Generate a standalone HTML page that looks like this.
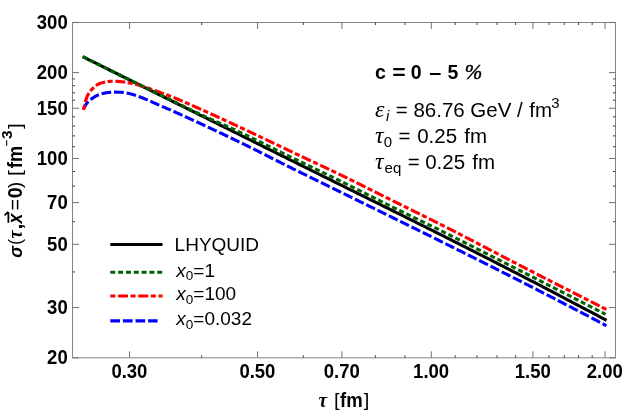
<!DOCTYPE html>
<html><head><meta charset="utf-8"><title>plot</title>
<style>
html,body{margin:0;padding:0;background:#fff;}
svg{display:block;will-change:transform;}
text{font-family:"Liberation Sans",sans-serif;font-size:19px;fill:#000;}
.b{font-weight:bold;}
.i{font-style:italic;}
.s{font-family:"Liberation Serif",serif;font-style:italic;}
.sb{font-weight:bold;}
</style></head><body>
<svg width="623" height="411" viewBox="0 0 623 411">
<rect width="623" height="411" fill="#fff"/>

<g fill="none" stroke-width="3.1" stroke-linejoin="round">
<path d="M82.70,56.65 L85.33,57.96 L87.96,59.27 L90.60,60.58 L93.23,61.89 L95.86,63.20 L98.49,64.51 L101.13,65.82 L103.76,67.13 L106.39,68.44 L109.02,69.75 L111.65,71.06 L114.29,72.37 L116.92,73.68 L119.55,74.99 L122.18,76.30 L124.81,77.61 L127.45,78.92 L130.08,80.23 L132.71,81.54 L135.34,82.85 L137.98,84.16 L140.61,85.47 L143.24,86.78 L145.87,88.09 L148.50,89.39 L151.14,90.70 L153.77,92.01 L156.40,93.32 L159.03,94.63 L161.66,95.94 L164.30,97.25 L166.93,98.56 L169.56,99.87 L172.19,101.18 L174.83,102.49 L177.46,103.80 L180.09,105.11 L182.72,106.42 L185.35,107.73 L187.99,109.03 L190.62,110.34 L193.25,111.65 L195.88,112.96 L198.52,114.27 L201.15,115.58 L203.78,116.89 L206.41,118.20 L209.04,119.51 L211.68,120.82 L214.31,122.12 L216.94,123.43 L219.57,124.74 L222.20,126.05 L224.84,127.36 L227.47,128.67 L230.10,129.98 L232.73,131.29 L235.37,132.60 L238.00,133.90 L240.63,135.21 L243.26,136.52 L245.89,137.83 L248.53,139.14 L251.16,140.45 L253.79,141.76 L256.42,143.06 L259.05,144.37 L261.69,145.68 L264.32,146.99 L266.95,148.30 L269.58,149.61 L272.22,150.92 L274.85,152.22 L277.48,153.53 L280.11,154.84 L282.74,156.15 L285.38,157.46 L288.01,158.77 L290.64,160.07 L293.27,161.38 L295.91,162.69 L298.54,164.00 L301.17,165.31 L303.80,166.61 L306.43,167.92 L309.07,169.23 L311.70,170.54 L314.33,171.85 L316.96,173.15 L319.59,174.46 L322.23,175.77 L324.86,177.08 L327.49,178.38 L330.12,179.69 L332.76,181.00 L335.39,182.31 L338.02,183.62 L340.65,184.92 L343.28,186.23 L345.92,187.54 L348.55,188.84 L351.18,190.15 L353.81,191.45 L356.44,192.76 L359.08,194.06 L361.71,195.36 L364.34,196.67 L366.97,197.97 L369.61,199.27 L372.24,200.57 L374.87,201.88 L377.50,203.18 L380.13,204.48 L382.77,205.78 L385.40,207.09 L388.03,208.39 L390.66,209.70 L393.29,211.00 L395.93,212.31 L398.56,213.61 L401.19,214.92 L403.82,216.23 L406.46,217.54 L409.09,218.85 L411.72,220.16 L414.35,221.47 L416.98,222.78 L419.62,224.10 L422.25,225.41 L424.88,226.73 L427.51,228.05 L430.15,229.37 L432.78,230.69 L435.41,232.02 L438.04,233.34 L440.67,234.66 L443.31,235.99 L445.94,237.31 L448.57,238.64 L451.20,239.97 L453.83,241.29 L456.47,242.62 L459.10,243.95 L461.73,245.28 L464.36,246.61 L467.00,247.94 L469.63,249.28 L472.26,250.61 L474.89,251.94 L477.52,253.28 L480.16,254.62 L482.79,255.95 L485.42,257.29 L488.05,258.63 L490.68,259.98 L493.32,261.32 L495.95,262.66 L498.58,264.01 L501.21,265.35 L503.85,266.70 L506.48,268.05 L509.11,269.40 L511.74,270.75 L514.37,272.10 L517.01,273.46 L519.64,274.81 L522.27,276.17 L524.90,277.53 L527.54,278.89 L530.17,280.26 L532.80,281.62 L535.43,282.99 L538.06,284.36 L540.70,285.73 L543.33,287.11 L545.96,288.48 L548.59,289.86 L551.22,291.24 L553.86,292.61 L556.49,293.99 L559.12,295.37 L561.75,296.75 L564.39,298.14 L567.02,299.52 L569.65,300.90 L572.28,302.29 L574.91,303.67 L577.55,305.05 L580.18,306.44 L582.81,307.82 L585.44,309.20 L588.07,310.59 L590.71,311.97 L593.34,313.36 L595.97,314.74 L598.60,316.13 L601.24,317.52 L603.87,318.91 L606.50,320.30" stroke="#000"/>
<path d="M83.10,109.60 L84.41,107.27 L85.72,104.80 L87.04,102.84 L88.35,101.45 L89.66,100.29 L90.97,99.29 L92.28,98.38 L93.59,97.51 L94.91,96.68 L96.22,95.93 L97.53,95.28 L98.84,94.75 L100.15,94.29 L101.46,93.87 L102.78,93.49 L104.09,93.16 L105.40,92.89 L106.71,92.70 L108.02,92.55 L109.34,92.41 L110.65,92.28 L111.96,92.19 L113.27,92.12 L114.58,92.10 L115.89,92.11 L117.21,92.14 L118.52,92.19 L119.83,92.25 L121.14,92.32 L122.45,92.40 L123.77,92.52 L125.08,92.73 L126.39,92.98 L127.70,93.26 L129.01,93.55 L130.32,93.85 L131.64,94.19 L132.95,94.56 L134.26,94.96 L135.57,95.37 L136.88,95.81 L138.19,96.27 L139.51,96.75 L140.82,97.25 L142.13,97.76 L143.44,98.29 L144.75,98.83 L146.07,99.38 L147.38,99.94 L148.69,100.51 L150.00,101.09 L151.31,101.67 L152.62,102.25 L153.94,102.84 L155.25,103.42 L156.56,104.00 L157.87,104.58 L159.18,105.15 L160.49,105.71 L161.81,106.28 L163.12,106.84 L164.43,107.41 L165.74,107.98 L167.05,108.55 L168.37,109.13 L169.68,109.70 L170.99,110.28 L172.30,110.86 L173.61,111.44 L174.92,112.02 L176.24,112.60 L177.55,113.18 L178.86,113.77 L180.17,114.36 L181.48,114.94 L182.80,115.53 L184.11,116.12 L185.42,116.72 L186.73,117.31 L188.04,117.91 L189.35,118.50 L190.67,119.10 L191.98,119.70 L193.29,120.30 L194.60,120.90 L195.91,121.50 L197.22,122.11 L198.54,122.71 L199.85,123.32 L201.16,123.92 L202.47,124.53 L203.78,125.14 L205.10,125.75 L206.41,126.36 L207.72,126.98 L209.03,127.59 L210.34,128.20 L211.65,128.82 L212.97,129.43 L214.28,130.05 L215.59,130.67 L216.90,131.29 L218.21,131.91 L219.53,132.53 L220.84,133.15 L222.15,133.77 L223.46,134.39 L224.77,135.02 L226.08,135.64 L227.40,136.27 L228.71,136.89 L230.02,137.52 L231.33,138.14 L232.64,138.77 L233.95,139.40 L235.27,140.03 L236.58,140.66 L237.89,141.29 L239.20,141.92 L240.51,142.55 L241.83,143.18 L243.14,143.82 L244.45,144.45 L245.76,145.10 L247.07,145.74 L248.38,146.38 L249.70,147.03 L251.01,147.68 L252.32,148.33 L253.63,148.99 L254.94,149.64 L256.25,150.30 L257.57,150.96 L258.88,151.62 L260.19,152.28 L261.50,152.94 L262.81,153.60 L264.13,154.26 L265.44,154.93 L266.75,155.59 L268.06,156.26 L269.37,156.92 L270.68,157.59 L272.00,158.25 L273.31,158.92 L274.62,159.58 L275.93,160.24 L277.24,160.91 L278.56,161.57 L279.87,162.23 L281.18,162.89 L282.49,163.55 L283.80,164.21 L285.11,164.87 L286.43,165.53 L287.74,166.18 L289.05,166.83 L290.36,167.48 L291.67,168.13 L292.98,168.78 L294.30,169.43 L295.61,170.08 L296.92,170.72 L298.23,171.37 L299.54,172.01 L300.86,172.66 L302.17,173.30 L303.48,173.94 L304.79,174.59 L306.10,175.23 L307.41,175.87 L308.73,176.51 L310.04,177.16 L311.35,177.80 L312.66,178.44 L313.97,179.08 L315.28,179.72 L316.60,180.36 L317.91,181.00 L319.22,181.64 L320.53,182.28 L321.84,182.92 L323.16,183.56 L324.47,184.20 L325.78,184.84 L327.09,185.48 L328.40,186.12 L329.71,186.77 L331.03,187.41 L332.34,188.05 L333.65,188.69 L334.96,189.33 L336.27,189.97 L337.59,190.62 L338.90,191.26 L340.21,191.90 L341.52,192.55 L342.83,193.19 L344.14,193.83 L345.46,194.48 L346.77,195.12 L348.08,195.76 L349.39,196.41 L350.70,197.05 L352.01,197.69 L353.33,198.33 L354.64,198.98 L355.95,199.62 L357.26,200.26 L358.57,200.91 L359.89,201.55 L361.20,202.19 L362.51,202.83 L363.82,203.48 L365.13,204.12 L366.44,204.76 L367.76,205.40 L369.07,206.05 L370.38,206.69 L371.69,207.33 L373.00,207.97 L374.32,208.62 L375.63,209.26 L376.94,209.90 L378.25,210.55 L379.56,211.19 L380.87,211.83 L382.19,212.47 L383.50,213.12 L384.81,213.76 L386.12,214.40 L387.43,215.05 L388.74,215.69 L390.06,216.33 L391.37,216.98 L392.68,217.62 L393.99,218.26 L395.30,218.91 L396.62,219.55 L397.93,220.19 L399.24,220.84 L400.55,221.48 L401.86,222.13 L403.17,222.77 L404.49,223.42 L405.80,224.06 L407.11,224.71 L408.42,225.35 L409.73,226.00 L411.04,226.64 L412.36,227.29 L413.67,227.93 L414.98,228.58 L416.29,229.22 L417.60,229.87 L418.92,230.52 L420.23,231.16 L421.54,231.81 L422.85,232.46 L424.16,233.10 L425.47,233.75 L426.79,234.40 L428.10,235.05 L429.41,235.69 L430.72,236.34 L432.03,236.99 L433.35,237.64 L434.66,238.29 L435.97,238.94 L437.28,239.59 L438.59,240.24 L439.90,240.89 L441.22,241.54 L442.53,242.19 L443.84,242.84 L445.15,243.49 L446.46,244.14 L447.77,244.79 L449.09,245.45 L450.40,246.10 L451.71,246.75 L453.02,247.40 L454.33,248.06 L455.65,248.71 L456.96,249.36 L458.27,250.02 L459.58,250.67 L460.89,251.32 L462.20,251.98 L463.52,252.63 L464.83,253.28 L466.14,253.94 L467.45,254.59 L468.76,255.25 L470.07,255.90 L471.39,256.56 L472.70,257.21 L474.01,257.87 L475.32,258.52 L476.63,259.18 L477.95,259.83 L479.26,260.49 L480.57,261.15 L481.88,261.80 L483.19,262.46 L484.50,263.12 L485.82,263.78 L487.13,264.43 L488.44,265.09 L489.75,265.75 L491.06,266.41 L492.38,267.07 L493.69,267.73 L495.00,268.38 L496.31,269.04 L497.62,269.70 L498.93,270.36 L500.25,271.02 L501.56,271.69 L502.87,272.35 L504.18,273.01 L505.49,273.67 L506.80,274.33 L508.12,274.99 L509.43,275.66 L510.74,276.32 L512.05,276.98 L513.36,277.65 L514.68,278.31 L515.99,278.98 L517.30,279.64 L518.61,280.31 L519.92,280.97 L521.23,281.64 L522.55,282.31 L523.86,282.97 L525.17,283.64 L526.48,284.31 L527.79,284.98 L529.11,285.64 L530.42,286.31 L531.73,286.98 L533.04,287.65 L534.35,288.32 L535.66,288.99 L536.98,289.66 L538.29,290.33 L539.60,291.01 L540.91,291.68 L542.22,292.35 L543.53,293.02 L544.85,293.69 L546.16,294.37 L547.47,295.04 L548.78,295.71 L550.09,296.39 L551.41,297.06 L552.72,297.74 L554.03,298.41 L555.34,299.09 L556.65,299.77 L557.96,300.44 L559.28,301.12 L560.59,301.80 L561.90,302.47 L563.21,303.15 L564.52,303.83 L565.83,304.51 L567.15,305.19 L568.46,305.86 L569.77,306.54 L571.08,307.22 L572.39,307.90 L573.71,308.58 L575.02,309.26 L576.33,309.95 L577.64,310.63 L578.95,311.31 L580.26,311.99 L581.58,312.67 L582.89,313.36 L584.20,314.04 L585.51,314.72 L586.82,315.41 L588.14,316.09 L589.45,316.77 L590.76,317.46 L592.07,318.14 L593.38,318.83 L594.69,319.51 L596.01,320.20 L597.32,320.89 L598.63,321.57 L599.94,322.26 L601.25,322.95 L602.56,323.64 L603.88,324.32 L605.19,325.01 L606.50,325.70" stroke="#0000ff" stroke-dasharray="9.7 2.9"/>
<path d="M83.50,109.80 L84.81,104.17 L86.12,99.04 L87.43,95.85 L88.74,93.42 L90.05,91.48 L91.36,89.86 L92.68,88.49 L93.99,87.29 L95.30,86.18 L96.61,85.19 L97.92,84.38 L99.23,83.78 L100.54,83.28 L101.85,82.86 L103.16,82.50 L104.47,82.21 L105.78,81.99 L107.09,81.77 L108.40,81.57 L109.72,81.40 L111.03,81.28 L112.34,81.21 L113.65,81.21 L114.96,81.25 L116.27,81.32 L117.58,81.41 L118.89,81.52 L120.20,81.64 L121.51,81.76 L122.82,81.90 L124.13,82.07 L125.44,82.25 L126.76,82.46 L128.07,82.68 L129.38,82.90 L130.69,83.16 L132.00,83.43 L133.31,83.74 L134.62,84.05 L135.93,84.39 L137.24,84.75 L138.55,85.13 L139.86,85.53 L141.17,85.94 L142.48,86.36 L143.80,86.78 L145.11,87.21 L146.42,87.65 L147.73,88.08 L149.04,88.51 L150.35,88.94 L151.66,89.38 L152.97,89.82 L154.28,90.27 L155.59,90.73 L156.90,91.19 L158.21,91.66 L159.53,92.13 L160.84,92.61 L162.15,93.09 L163.46,93.58 L164.77,94.07 L166.08,94.57 L167.39,95.07 L168.70,95.57 L170.01,96.08 L171.32,96.60 L172.63,97.12 L173.94,97.64 L175.25,98.17 L176.57,98.70 L177.88,99.23 L179.19,99.77 L180.50,100.31 L181.81,100.87 L183.12,101.42 L184.43,101.99 L185.74,102.56 L187.05,103.13 L188.36,103.71 L189.67,104.29 L190.98,104.88 L192.29,105.47 L193.61,106.05 L194.92,106.64 L196.23,107.23 L197.54,107.82 L198.85,108.40 L200.16,108.99 L201.47,109.58 L202.78,110.17 L204.09,110.76 L205.40,111.35 L206.71,111.95 L208.02,112.54 L209.33,113.14 L210.65,113.73 L211.96,114.33 L213.27,114.93 L214.58,115.53 L215.89,116.13 L217.20,116.73 L218.51,117.33 L219.82,117.93 L221.13,118.53 L222.44,119.14 L223.75,119.74 L225.06,120.35 L226.37,120.95 L227.69,121.56 L229.00,122.16 L230.31,122.77 L231.62,123.38 L232.93,123.99 L234.24,124.60 L235.55,125.21 L236.86,125.82 L238.17,126.43 L239.48,127.04 L240.79,127.65 L242.10,128.26 L243.41,128.87 L244.73,129.49 L246.04,130.10 L247.35,130.71 L248.66,131.33 L249.97,131.95 L251.28,132.57 L252.59,133.19 L253.90,133.81 L255.21,134.43 L256.52,135.05 L257.83,135.67 L259.14,136.30 L260.45,136.92 L261.77,137.55 L263.08,138.17 L264.39,138.80 L265.70,139.42 L267.01,140.05 L268.32,140.68 L269.63,141.30 L270.94,141.93 L272.25,142.56 L273.56,143.18 L274.87,143.81 L276.18,144.44 L277.49,145.07 L278.81,145.69 L280.12,146.32 L281.43,146.94 L282.74,147.57 L284.05,148.20 L285.36,148.82 L286.67,149.44 L287.98,150.07 L289.29,150.69 L290.60,151.31 L291.91,151.93 L293.22,152.55 L294.54,153.17 L295.85,153.79 L297.16,154.41 L298.47,155.02 L299.78,155.64 L301.09,156.26 L302.40,156.87 L303.71,157.49 L305.02,158.10 L306.33,158.71 L307.64,159.33 L308.95,159.94 L310.26,160.55 L311.58,161.17 L312.89,161.78 L314.20,162.39 L315.51,163.01 L316.82,163.62 L318.13,164.23 L319.44,164.85 L320.75,165.46 L322.06,166.08 L323.37,166.69 L324.68,167.31 L325.99,167.93 L327.30,168.55 L328.62,169.17 L329.93,169.78 L331.24,170.41 L332.55,171.03 L333.86,171.65 L335.17,172.27 L336.48,172.90 L337.79,173.53 L339.10,174.15 L340.41,174.78 L341.72,175.42 L343.03,176.05 L344.34,176.68 L345.66,177.32 L346.97,177.96 L348.28,178.60 L349.59,179.24 L350.90,179.88 L352.21,180.53 L353.52,181.18 L354.83,181.83 L356.14,182.48 L357.45,183.13 L358.76,183.78 L360.07,184.44 L361.38,185.09 L362.70,185.75 L364.01,186.40 L365.32,187.06 L366.63,187.71 L367.94,188.37 L369.25,189.03 L370.56,189.68 L371.87,190.34 L373.18,191.00 L374.49,191.65 L375.80,192.31 L377.11,192.96 L378.42,193.62 L379.74,194.27 L381.05,194.92 L382.36,195.57 L383.67,196.22 L384.98,196.87 L386.29,197.52 L387.60,198.17 L388.91,198.82 L390.22,199.47 L391.53,200.12 L392.84,200.77 L394.15,201.41 L395.46,202.06 L396.78,202.71 L398.09,203.36 L399.40,204.01 L400.71,204.65 L402.02,205.30 L403.33,205.95 L404.64,206.59 L405.95,207.24 L407.26,207.89 L408.57,208.54 L409.88,209.18 L411.19,209.83 L412.51,210.48 L413.82,211.13 L415.13,211.78 L416.44,212.43 L417.75,213.07 L419.06,213.72 L420.37,214.37 L421.68,215.02 L422.99,215.67 L424.30,216.32 L425.61,216.97 L426.92,217.63 L428.23,218.28 L429.55,218.93 L430.86,219.58 L432.17,220.24 L433.48,220.89 L434.79,221.55 L436.10,222.20 L437.41,222.86 L438.72,223.51 L440.03,224.17 L441.34,224.83 L442.65,225.49 L443.96,226.15 L445.27,226.81 L446.59,227.47 L447.90,228.13 L449.21,228.80 L450.52,229.46 L451.83,230.13 L453.14,230.79 L454.45,231.46 L455.76,232.13 L457.07,232.80 L458.38,233.47 L459.69,234.14 L461.00,234.81 L462.31,235.49 L463.63,236.16 L464.94,236.84 L466.25,237.51 L467.56,238.19 L468.87,238.87 L470.18,239.54 L471.49,240.22 L472.80,240.90 L474.11,241.58 L475.42,242.26 L476.73,242.94 L478.04,243.62 L479.35,244.30 L480.67,244.98 L481.98,245.66 L483.29,246.35 L484.60,247.03 L485.91,247.71 L487.22,248.39 L488.53,249.08 L489.84,249.76 L491.15,250.44 L492.46,251.13 L493.77,251.81 L495.08,252.49 L496.39,253.18 L497.71,253.86 L499.02,254.54 L500.33,255.22 L501.64,255.91 L502.95,256.59 L504.26,257.27 L505.57,257.95 L506.88,258.63 L508.19,259.31 L509.50,260.00 L510.81,260.68 L512.12,261.36 L513.43,262.03 L514.75,262.71 L516.06,263.39 L517.37,264.07 L518.68,264.75 L519.99,265.42 L521.30,266.10 L522.61,266.77 L523.92,267.45 L525.23,268.12 L526.54,268.79 L527.85,269.46 L529.16,270.14 L530.47,270.81 L531.79,271.48 L533.10,272.15 L534.41,272.82 L535.72,273.50 L537.03,274.17 L538.34,274.84 L539.65,275.51 L540.96,276.18 L542.27,276.85 L543.58,277.52 L544.89,278.19 L546.20,278.86 L547.52,279.53 L548.83,280.20 L550.14,280.87 L551.45,281.54 L552.76,282.21 L554.07,282.88 L555.38,283.55 L556.69,284.22 L558.00,284.89 L559.31,285.55 L560.62,286.22 L561.93,286.89 L563.24,287.56 L564.56,288.23 L565.87,288.89 L567.18,289.56 L568.49,290.23 L569.80,290.90 L571.11,291.56 L572.42,292.23 L573.73,292.90 L575.04,293.56 L576.35,294.23 L577.66,294.89 L578.97,295.56 L580.28,296.23 L581.60,296.89 L582.91,297.56 L584.22,298.22 L585.53,298.89 L586.84,299.55 L588.15,300.22 L589.46,300.88 L590.77,301.54 L592.08,302.21 L593.39,302.87 L594.70,303.54 L596.01,304.20 L597.32,304.86 L598.64,305.53 L599.95,306.19 L601.26,306.85 L602.57,307.51 L603.88,308.18 L605.19,308.84 L606.50,309.50" stroke="#ff0000" stroke-dasharray="5.1 2.7 9.9 2.5"/>
<path d="M82.70,56.65 L84.01,57.30 L85.32,57.95 L86.63,58.59 L87.94,59.24 L89.25,59.89 L90.56,60.54 L91.87,61.18 L93.18,61.83 L94.49,62.48 L95.80,63.12 L97.11,63.77 L98.42,64.42 L99.73,65.06 L101.04,65.71 L102.35,66.35 L103.66,67.00 L104.97,67.65 L106.28,68.29 L107.60,68.94 L108.91,69.58 L110.22,70.23 L111.53,70.88 L112.84,71.52 L114.15,72.17 L115.46,72.81 L116.77,73.46 L118.08,74.10 L119.39,74.75 L120.70,75.39 L122.01,76.04 L123.32,76.68 L124.63,77.33 L125.94,77.97 L127.25,78.62 L128.56,79.26 L129.87,79.91 L131.18,80.55 L132.49,81.20 L133.80,81.84 L135.11,82.49 L136.42,83.13 L137.73,83.78 L139.04,84.42 L140.35,85.07 L141.66,85.71 L142.97,86.36 L144.28,87.00 L145.59,87.65 L146.90,88.29 L148.21,88.94 L149.52,89.58 L150.83,90.23 L152.14,90.87 L153.45,91.52 L154.77,92.16 L156.08,92.81 L157.39,93.45 L158.70,94.10 L160.01,94.74 L161.32,95.38 L162.63,96.03 L163.94,96.67 L165.25,97.31 L166.56,97.95 L167.87,98.60 L169.18,99.24 L170.49,99.88 L171.80,100.52 L173.11,101.16 L174.42,101.80 L175.73,102.44 L177.04,103.08 L178.35,103.72 L179.66,104.36 L180.97,105.00 L182.28,105.64 L183.59,106.27 L184.90,106.91 L186.21,107.55 L187.52,108.19 L188.83,108.82 L190.14,109.46 L191.45,110.09 L192.76,110.73 L194.07,111.36 L195.38,111.99 L196.69,112.63 L198.00,113.26 L199.31,113.89 L200.62,114.52 L201.94,115.15 L203.25,115.76 L204.56,116.37 L205.87,116.98 L207.18,117.58 L208.49,118.17 L209.80,118.76 L211.11,119.34 L212.42,119.92 L213.73,120.50 L215.04,121.07 L216.35,121.64 L217.66,122.22 L218.97,122.78 L220.28,123.35 L221.59,123.92 L222.90,124.49 L224.21,125.06 L225.52,125.64 L226.83,126.21 L228.14,126.79 L229.45,127.37 L230.76,127.95 L232.07,128.54 L233.38,129.13 L234.69,129.73 L236.00,130.33 L237.31,130.94 L238.62,131.56 L239.93,132.19 L241.24,132.81 L242.55,133.44 L243.86,134.08 L245.17,134.71 L246.48,135.34 L247.79,135.98 L249.11,136.61 L250.42,137.25 L251.73,137.88 L253.04,138.52 L254.35,139.16 L255.66,139.80 L256.97,140.44 L258.28,141.08 L259.59,141.72 L260.90,142.37 L262.21,143.01 L263.52,143.65 L264.83,144.30 L266.14,144.94 L267.45,145.58 L268.76,146.23 L270.07,146.87 L271.38,147.52 L272.69,148.16 L274.00,148.80 L275.31,149.45 L276.62,150.09 L277.93,150.74 L279.24,151.38 L280.55,152.03 L281.86,152.67 L283.17,153.31 L284.48,153.96 L285.79,154.60 L287.10,155.24 L288.41,155.88 L289.72,156.52 L291.03,157.16 L292.34,157.80 L293.65,158.44 L294.96,159.08 L296.27,159.71 L297.59,160.35 L298.90,160.98 L300.21,161.62 L301.52,162.25 L302.83,162.88 L304.14,163.51 L305.45,164.14 L306.76,164.77 L308.07,165.40 L309.38,166.03 L310.69,166.66 L312.00,167.28 L313.31,167.91 L314.62,168.54 L315.93,169.17 L317.24,169.79 L318.55,170.42 L319.86,171.05 L321.17,171.68 L322.48,172.31 L323.79,172.94 L325.10,173.57 L326.41,174.20 L327.72,174.83 L329.03,175.47 L330.34,176.10 L331.65,176.74 L332.96,177.37 L334.27,178.01 L335.58,178.65 L336.89,179.29 L338.20,179.93 L339.51,180.58 L340.82,181.22 L342.13,181.87 L343.44,182.52 L344.76,183.17 L346.07,183.82 L347.38,184.47 L348.69,185.13 L350.00,185.78 L351.31,186.44 L352.62,187.09 L353.93,187.75 L355.24,188.40 L356.55,189.06 L357.86,189.71 L359.17,190.37 L360.48,191.03 L361.79,191.69 L363.10,192.34 L364.41,193.00 L365.72,193.66 L367.03,194.32 L368.34,194.97 L369.65,195.63 L370.96,196.29 L372.27,196.95 L373.58,197.60 L374.89,198.26 L376.20,198.92 L377.51,199.57 L378.82,200.23 L380.13,200.89 L381.44,201.54 L382.75,202.20 L384.06,202.85 L385.37,203.51 L386.68,204.16 L387.99,204.81 L389.30,205.46 L390.61,206.11 L391.93,206.76 L393.24,207.40 L394.55,208.05 L395.86,208.69 L397.17,209.33 L398.48,209.98 L399.79,210.62 L401.10,211.26 L402.41,211.90 L403.72,212.54 L405.03,213.17 L406.34,213.81 L407.65,214.45 L408.96,215.09 L410.27,215.72 L411.58,216.36 L412.89,217.00 L414.20,217.63 L415.51,218.27 L416.82,218.90 L418.13,219.54 L419.44,220.18 L420.75,220.81 L422.06,221.45 L423.37,222.09 L424.68,222.72 L425.99,223.36 L427.30,224.00 L428.61,224.64 L429.92,225.28 L431.23,225.92 L432.54,226.56 L433.85,227.20 L435.16,227.85 L436.47,228.49 L437.78,229.13 L439.09,229.78 L440.41,230.43 L441.72,231.08 L443.03,231.73 L444.34,232.38 L445.65,233.03 L446.96,233.68 L448.27,234.34 L449.58,235.00 L450.89,235.66 L452.20,236.32 L453.51,236.98 L454.82,237.63 L456.13,238.29 L457.44,238.95 L458.75,239.61 L460.06,240.27 L461.37,240.93 L462.68,241.59 L463.99,242.25 L465.30,242.91 L466.61,243.57 L467.92,244.23 L469.23,244.89 L470.54,245.55 L471.85,246.22 L473.16,246.88 L474.47,247.54 L475.78,248.20 L477.09,248.86 L478.40,249.52 L479.71,250.18 L481.02,250.84 L482.33,251.51 L483.64,252.17 L484.95,252.83 L486.26,253.49 L487.58,254.16 L488.89,254.82 L490.20,255.48 L491.51,256.14 L492.82,256.81 L494.13,257.47 L495.44,258.13 L496.75,258.79 L498.06,259.46 L499.37,260.12 L500.68,260.78 L501.99,261.45 L503.30,262.11 L504.61,262.78 L505.92,263.44 L507.23,264.10 L508.54,264.77 L509.85,265.43 L511.16,266.10 L512.47,266.76 L513.78,267.43 L515.09,268.09 L516.40,268.76 L517.71,269.42 L519.02,270.09 L520.33,270.75 L521.64,271.42 L522.95,272.09 L524.26,272.75 L525.57,273.42 L526.88,274.08 L528.19,274.75 L529.50,275.42 L530.81,276.08 L532.12,276.75 L533.43,277.42 L534.75,278.08 L536.06,278.75 L537.37,279.42 L538.68,280.08 L539.99,280.75 L541.30,281.42 L542.61,282.09 L543.92,282.76 L545.23,283.42 L546.54,284.09 L547.85,284.76 L549.16,285.43 L550.47,286.10 L551.78,286.77 L553.09,287.43 L554.40,288.10 L555.71,288.77 L557.02,289.44 L558.33,290.11 L559.64,290.78 L560.95,291.45 L562.26,292.12 L563.57,292.79 L564.88,293.46 L566.19,294.13 L567.50,294.80 L568.81,295.47 L570.12,296.14 L571.43,296.81 L572.74,297.48 L574.05,298.15 L575.36,298.83 L576.67,299.50 L577.98,300.17 L579.29,300.84 L580.60,301.51 L581.92,302.18 L583.23,302.86 L584.54,303.53 L585.85,304.20 L587.16,304.87 L588.47,305.55 L589.78,306.22 L591.09,306.89 L592.40,307.57 L593.71,308.24 L595.02,308.91 L596.33,309.59 L597.64,310.26 L598.95,310.93 L600.26,311.61 L601.57,312.28 L602.88,312.96 L604.19,313.63 L605.50,314.30" stroke="#006400" stroke-dasharray="5.0 2.82"/>
<path d="M110.3,244.5 H162.5" stroke="#000" stroke-width="3.1"/>
<path d="M110.3,272.2 H162.5" stroke="#006400" stroke-width="3.1" stroke-dasharray="5.0 2.82"/>
<path d="M110.3,296.05 H162.5" stroke="#ff0000" stroke-width="3.1" stroke-dasharray="5.1 2.7 9.9 2.5"/>
<path d="M110.3,320.9 H157.6" stroke="#0000ff" stroke-width="3.1" stroke-dasharray="9.7 2.9"/>
</g>
<rect x="72.5" y="22.5" width="543.0" height="335.3" fill="none" stroke="#858585" stroke-width="1"/>
<path d="M72.5,357.80h6.5M615.5,357.80h-6.5M72.5,307.58h6.5M615.5,307.58h-6.5M72.5,244.32h6.5M615.5,244.32h-6.5M72.5,202.65h6.5M615.5,202.65h-6.5M72.5,158.47h6.5M615.5,158.47h-6.5M72.5,108.25h6.5M615.5,108.25h-6.5M72.5,72.62h6.5M615.5,72.62h-6.5M72.5,22.41h6.5M615.5,22.41h-6.5M129.58,357.8v-6.5M129.58,22.5v6.5M257.60,357.8v-6.5M257.60,22.5v6.5M341.92,357.8v-6.5M341.92,22.5v6.5M431.30,357.8v-6.5M431.30,22.5v6.5M532.91,357.8v-6.5M532.91,22.5v6.5M605.00,357.8v-6.5M605.00,22.5v6.5" stroke="#707070" stroke-width="1" fill="none"/>
<path d="M72.5,271.95h2.5M615.5,271.95h-2.5M72.5,221.74h2.5M615.5,221.74h-2.5M72.5,186.11h2.5M615.5,186.11h-2.5M72.5,171.52h2.5M615.5,171.52h-2.5M72.5,146.67h2.5M615.5,146.67h-2.5M72.5,135.89h2.5M615.5,135.89h-2.5M72.5,125.98h2.5M615.5,125.98h-2.5M72.5,116.80h2.5M615.5,116.80h-2.5M72.5,100.26h2.5M615.5,100.26h-2.5M72.5,92.75h2.5M615.5,92.75h-2.5M72.5,85.67h2.5M615.5,85.67h-2.5M72.5,78.98h2.5M615.5,78.98h-2.5M201.68,357.8v-2.5M201.68,22.5v2.5M303.29,357.8v-2.5M303.29,22.5v2.5M375.38,357.8v-2.5M375.38,22.5v2.5M404.90,357.8v-2.5M404.90,22.5v2.5M455.18,357.8v-2.5M455.18,22.5v2.5M476.99,357.8v-2.5M476.99,22.5v2.5M497.05,357.8v-2.5M497.05,22.5v2.5M515.62,357.8v-2.5M515.62,22.5v2.5M549.08,357.8v-2.5M549.08,22.5v2.5M564.28,357.8v-2.5M564.28,22.5v2.5M578.60,357.8v-2.5M578.60,22.5v2.5M592.15,357.8v-2.5M592.15,22.5v2.5" stroke="#3c3c3c" stroke-width="1" fill="none"/>
<text class="b" transform="translate(67.7,364.30) scale(0.945,1)" style="font-size:19.6px" text-anchor="end">20</text>
<text class="b" transform="translate(67.7,314.08) scale(0.945,1)" style="font-size:19.6px" text-anchor="end">30</text>
<text class="b" transform="translate(67.7,250.82) scale(0.945,1)" style="font-size:19.6px" text-anchor="end">50</text>
<text class="b" transform="translate(67.7,209.15) scale(0.945,1)" style="font-size:19.6px" text-anchor="end">70</text>
<text class="b" transform="translate(67.7,164.97) scale(0.945,1)" style="font-size:19.6px" text-anchor="end">100</text>
<text class="b" transform="translate(67.7,114.75) scale(0.945,1)" style="font-size:19.6px" text-anchor="end">150</text>
<text class="b" transform="translate(67.7,79.12) scale(0.945,1)" style="font-size:19.6px" text-anchor="end">200</text>
<text class="b" transform="translate(67.7,28.91) scale(0.945,1)" style="font-size:19.6px" text-anchor="end">300</text>
<text class="b" transform="translate(129.38,378.4) scale(0.945,1)" style="font-size:19.6px" text-anchor="middle">0.30</text>
<text class="b" transform="translate(257.40,378.4) scale(0.945,1)" style="font-size:19.6px" text-anchor="middle">0.50</text>
<text class="b" transform="translate(341.72,378.4) scale(0.945,1)" style="font-size:19.6px" text-anchor="middle">0.70</text>
<text class="b" transform="translate(431.10,378.4) scale(0.945,1)" style="font-size:19.6px" text-anchor="middle">1.00</text>
<text class="b" transform="translate(532.71,378.4) scale(0.945,1)" style="font-size:19.6px" text-anchor="middle">1.50</text>
<text class="b" transform="translate(604.80,378.4) scale(0.945,1)" style="font-size:19.6px" text-anchor="middle">2.00</text>
<text transform="translate(318.6,406.8) scale(0.92,1)" class="s sb" style="font-size:21px">τ</text>
<text transform="translate(333.9,405.6) scale(1.15,1)" style="font-size:17.5px">[</text>
<text transform="translate(340.0,406.8) scale(0.945,1)" class="b" style="font-size:19.6px">fm</text>
<text transform="translate(363.8,405.6) scale(1.15,1)" style="font-size:17.5px">]</text>
<g transform="translate(22.0,256.5) rotate(-90)"><text transform="translate(-1.30,0) scale(0.95,1)" class="b i" style="font-size:18.5px">σ</text><text transform="translate(11.40,-1.4) scale(1.05,1)" class="" style="font-size:17.5px">(</text><text transform="translate(17.80,0) scale(0.9,1)" class="s sb" style="font-size:21px">τ</text><text transform="translate(27.20,0) scale(1.0,1)" class="b" style="font-size:19.6px">,</text><text transform="translate(32.90,0) scale(0.9,1)" class="b i" style="font-size:19.6px">x</text><text transform="translate(46.00,0) scale(1.0,1)" class="" style="font-size:19.6px">=</text><text transform="translate(58.20,0) scale(1.0,1)" class="b" style="font-size:19.6px">0</text><text transform="translate(68.40,-1.4) scale(1.05,1)" class="" style="font-size:17.5px">)</text><text transform="translate(80.60,-1.2) scale(1.2,1)" class="" style="font-size:17.5px">[</text><text transform="translate(88.30,0) scale(0.94,1)" class="b" style="font-size:19.6px">f</text><text transform="translate(94.40,0) scale(0.93,1)" class="b" style="font-size:19.6px">m</text><text transform="translate(110.10,-10) scale(0.75,1)" class="" style="font-size:15.5px">−</text><text transform="translate(117.40,-10) scale(1.0,1)" class="b" style="font-size:15.5px">3</text><text transform="translate(127.50,-1.2) scale(1.2,1)" class="" style="font-size:17.5px">]</text><path d="M33.7,-13.6 H44.4 M41.2,-17.4 L44.6,-13.8" stroke="#000" stroke-width="1.8" fill="none"/></g>
<text x="375.0" y="79.3" class="b" style="font-size:19.5px;">c</text>
<text x="392.2" y="79.3" class="b" style="font-size:19.5px" textLength="13.4" lengthAdjust="spacingAndGlyphs">=</text>
<text x="410.8" y="79.3" class="b" style="font-size:19.5px;">0</text>
<text x="429.2" y="79.3" class="b" style="font-size:19.5px" textLength="12.1" lengthAdjust="spacingAndGlyphs">–</text>
<text x="447.4" y="79.3" class="b" style="font-size:19.5px;">5</text>
<text x="464.8" y="79.3" class="s" style="font-size:21px;stroke:#000;stroke-width:0.45px">%</text>
<text x="375.0" y="117.0" class="s" style="font-size:24px;">ε</text>
<text x="386.0" y="120.5" class="i" style="font-size:15px;">i</text>
<text x="395.8" y="117.0" style="font-size:20.5px;">=</text>
<text x="413.4" y="117.0" style="font-size:20.5px;">86.76</text>
<text x="470.3" y="117.0" style="font-size:20.5px;">GeV</text>
<text x="517.0" y="117.0" style="font-size:20.5px;">/</text>
<text x="529.2" y="117.0" style="font-size:20.5px;">fm</text>
<text x="551.2" y="107.8" style="font-size:15px;">3</text>
<text x="375.0" y="143.0" class="s" style="font-size:24px;">τ</text>
<text x="383.8" y="146.6" style="font-size:15px;">0</text>
<text x="398.6" y="143.0" style="font-size:20.5px;">=</text>
<text x="417.2" y="143.0" style="font-size:20.5px;">0.25</text>
<text x="464.2" y="143.0" style="font-size:20.5px;">fm</text>
<text x="375.0" y="169.0" class="s" style="font-size:24px;">τ</text>
<text x="384.6" y="172.6" style="font-size:15px;">eq</text>
<text x="407.8" y="169.0" style="font-size:20.5px;">=</text>
<text x="425.2" y="169.0" style="font-size:20.5px;">0.25</text>
<text x="472.2" y="169.0" style="font-size:20.5px;">fm</text>
<text x="174.6" y="250.8">LHYQUID</text>
<text y="276.8"><tspan x="176.3" class="i">x</tspan><tspan dy="3.5" style="font-size:13.5px">0</tspan><tspan dy="-3.5">=1</tspan></text>
<text y="300.2"><tspan x="176.3" class="i">x</tspan><tspan dy="3.5" style="font-size:13.5px">0</tspan><tspan dy="-3.5">=100</tspan></text>
<text y="325.4"><tspan x="176.3" class="i">x</tspan><tspan dy="3.5" style="font-size:13.5px">0</tspan><tspan dy="-3.5">=0.032</tspan></text>
</svg></body></html>
